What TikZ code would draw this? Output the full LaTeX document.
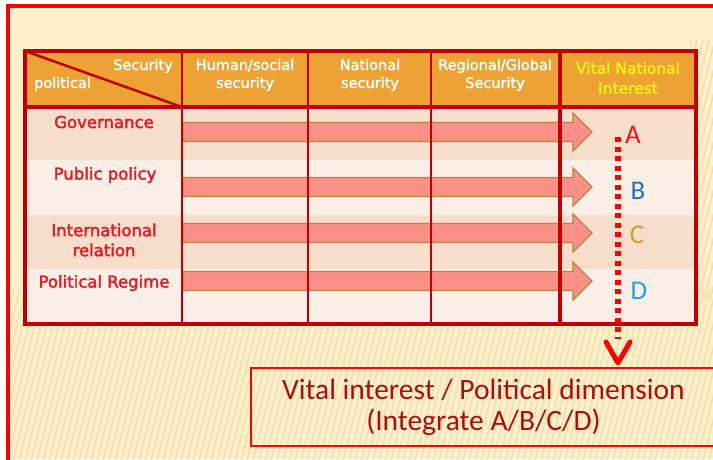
\documentclass[tikz,border=0pt]{standalone}
\usepackage{fontspec}
\setmainfont{DejaVu Sans}
\newfontfamily\semib[FakeBold=2.2]{DejaVu Sans}
\newfontfamily\calibri{Carlito}
\usepackage{xcolor}
\usetikzlibrary{arrows.meta}
\usetikzlibrary{positioning}

\definecolor{cream}{HTML}{FCF0CC}
\definecolor{stripe}{HTML}{EFD9A0}
\definecolor{hdr}{HTML}{EDA233}
\definecolor{rowdark}{HTML}{F7DDCC}
\definecolor{rowlight}{HTML}{FBEEE7}
\definecolor{tblred}{HTML}{C00000}
\definecolor{labred}{HTML}{E21B24}
\definecolor{bandfill}{HTML}{FA9088}
\definecolor{bandline}{HTML}{B8833C}
\definecolor{vyellow}{HTML}{FFF01A}
\definecolor{ltrA}{HTML}{E8141C}
\definecolor{ltrB}{HTML}{1F74C2}
\definecolor{ltrC}{HTML}{C9A227}
\definecolor{ltrD}{HTML}{1CA6E6}
\definecolor{dimred}{HTML}{A80F12}

\begin{document}
\begin{tikzpicture}[x=1pt,y=-1pt,
    head/.style={text=white,font=\semib\fontsize{14.5}{18}\selectfont,align=center,inner sep=0pt},
    rowlab/.style={text=labred,font=\semib\fontsize{16.5}{20}\selectfont,align=center,inner sep=0pt},
    ltr/.style={font=\calibri\fontsize{27}{27}\selectfont,inner sep=0pt},
    band/.style={fill=bandfill,draw=bandline,line width=1.3pt},
    grid/.style={draw=tblred,line width=2.5pt},
    tbl/.style={draw=tblred,line width=3.5pt}]
    \useasboundingbox (0,0) rectangle (713,459);
    \clip (0,0) rectangle (713,459);
    \fill[white] (0,0) rectangle (713,459);
    \fill[cream] (8,6) rectangle (713,459);
    % stripes
    \begin{scope}
        \clip (10,290) rectangle (713,459);
        \foreach \i in {-60,-54,...,720}
            \draw[stripe,line width=1.6pt,opacity=0.7] (\i,465) -- ++(45,-180);
    \end{scope}
    \begin{scope}
        \clip (690,40) rectangle (713,300);
        \foreach \i in {560,566,...,720}
            \draw[stripe,line width=1.6pt,opacity=0.7] (\i,300) -- ++(65,-260);
    \end{scope}
    \draw[red,line width=3.5pt] (8,470) -- (8,6) -- (720,6);

    % table body
    \fill[hdr] (25,51) rectangle (696,107);
    \fill[rowdark] (25,107) rectangle (696,160);
    \fill[rowlight] (25,160) rectangle (696,215);
    \fill[rowdark] (25,215) rectangle (696,269);
    \fill[rowlight] (25,269) rectangle (696,324);

    % bands
    \foreach \y in {132,187,233,281}
        \filldraw[band] (183,\y-9.5) -- (573,\y-9.5) -- (573,\y-19) -- (592,\y)
            -- (573,\y+19) -- (573,\y+9.5) -- (183,\y+9.5) -- cycle;

    \draw[grid] (182,51) -- (182,324);
    \draw[grid] (308,51) -- (308,324);
    \draw[grid] (431,51) -- (431,324);
    \draw[tbl] (560,51) -- (560,324);
    \draw[tbl] (25,107) -- (696,107);
    \draw[tblred,line width=2.5pt] (25,51) -- (182,107);
    \draw[tbl] (25,51) rectangle (696,324);

    % headers
    \node[head,anchor=east] (sec) at (173,66) {Security};
    \node[head,anchor=west] (pol) at (34,84) {political};
    \node[head] (hum) at (245,75) {Human/social\\security};
    \node[head] (nat) at (370,75) {National\\security};
    \node[head] (reg) at (495,75) {Regional/Global\\Security};
    \node[head,text=vyellow,font=\semib\fontsize{15.5}{20}\selectfont] (vni) at (628,78) {Vital National\\Interest};

    % row labels
    \node[rowlab] (gov) at (104,122) {Governance};
    \node[rowlab] (pub) at (105,175) {Public policy};
    \node[rowlab] (intl) at (104,240) {International\\relation};
    \node[rowlab] (reg2) at (104,283) {Political Regime};

    % letters
    \node[ltr,text=ltrA] (A) at (633,135) {A};
    \node[ltr,text=ltrB] (B) at (638,191) {B};
    \node[ltr,text=ltrC] (C) at (637,235) {C};
    \node[ltr,text=ltrD] (D) at (639,291) {D};

    % target box
    \node[draw=red,line width=2pt,minimum width=465pt,minimum height=78pt,
        text=dimred,font=\calibri\fontsize{29.5}{31}\selectfont,align=center]
        (vital) at (483.5,407) {Vital interest / Political dimension\\(Integrate A/B/C/D)};

    \coordinate (dtop) at (618,137);
    \coordinate (dtip) at ([yshift=4pt]vital.north -| dtop);
    \draw[red,line width=6pt,dash pattern=on 5pt off 4.5pt] (dtop) -- ([yshift=24pt]dtip);
    \draw[red,line width=5pt,line cap=round,line join=round]
        ([shift={(-12,-21)}]dtip) -- (dtip) -- ([shift={(12,-21)}]dtip);
\end{tikzpicture}
\end{document}
